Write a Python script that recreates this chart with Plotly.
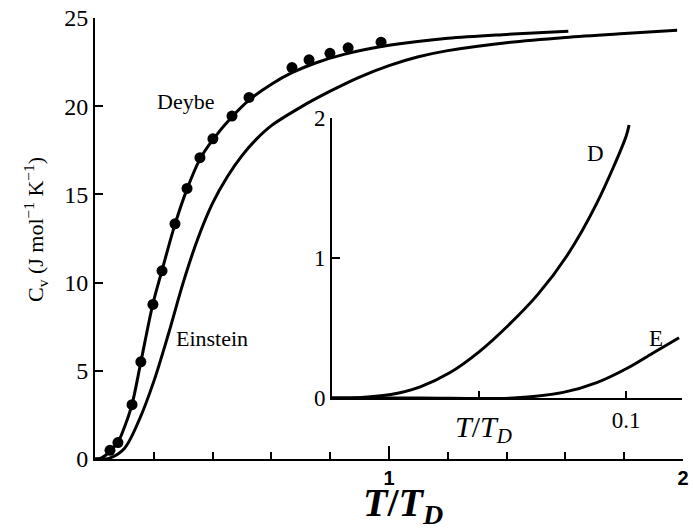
import plotly.graph_objects as go

# ---- data ----
dots_t = [0.051, 0.078, 0.126, 0.156, 0.197, 0.228, 0.272, 0.313, 0.357, 0.401,
          0.466, 0.524, 0.670, 0.728, 0.799, 0.861, 0.973]
dots_c = [0.49, 0.93, 3.08, 5.51, 8.76, 10.67, 13.33, 15.34, 17.08, 18.15,
          19.44, 20.5, 22.19, 22.63, 23.0, 23.31, 23.63]

debye_t = [0, 0.02, 0.035, 0.051, 0.078, 0.1, 0.126, 0.156, 0.197, 0.228, 0.272,
           0.313, 0.357, 0.401, 0.466, 0.524, 0.6, 0.67, 0.75, 0.85, 1.0, 1.2,
           1.4, 1.61]
debye_c = [0, 0.05, 0.2, 0.45, 0.95, 1.8, 3.1, 5.5, 8.8, 10.7, 13.3,
           15.3, 17.0, 18.1, 19.4, 20.35, 21.25, 21.9, 22.45, 22.95, 23.45, 23.85,
           24.07, 24.25]

einstein_t = [0, 0.03, 0.05, 0.1, 0.15, 0.2, 0.25, 0.3, 0.35, 0.4, 0.45, 0.5,
              0.55, 0.6, 0.7, 0.8, 0.9, 1.0, 1.1, 1.2, 1.4, 1.6, 1.8, 1.98]
einstein_c = [0, 0.0, 0.05, 0.6, 2.2, 4.4, 7.1, 10.0, 12.5, 14.5, 16.0, 17.2,
              18.15, 18.9, 19.95, 20.85, 21.65, 22.3, 22.8, 23.15, 23.6, 23.9,
              24.12, 24.3]

inset_d_t = [0, 0.01, 0.02, 0.03, 0.04, 0.05, 0.06, 0.07, 0.08, 0.09, 0.1, 0.101]
inset_d_c = [0, 0.004, 0.025, 0.08, 0.18, 0.33, 0.52, 0.74, 1.02, 1.39, 1.87, 1.95]

inset_e_t = [0, 0.03, 0.0616, 0.0786, 0.090, 0.101, 0.109, 0.118]
inset_e_c = [0, 0.0, 0.0, 0.04, 0.11, 0.22, 0.32, 0.43]

main_x_ticks = [1, 2]
main_x_minor = [0.2, 0.4, 0.6, 0.8, 1.2, 1.4, 1.6, 1.8]
main_y_ticks = [0, 5, 10, 15, 20, 25]
inset_x_ticks = [0.1]
inset_x_minor = [0.05]
inset_y_ticks = [0, 1, 2]

W, H = 693, 528
SERIF = "Times New Roman, Liberation Serif, DejaVu Serif, serif"
line = dict(color="black", width=3, shape="spline", smoothing=0.9)

fig = go.Figure()
fig.add_trace(go.Scatter(x=debye_t, y=debye_c, mode="lines", line=line,
                         xaxis="x", yaxis="y", showlegend=False))
fig.add_trace(go.Scatter(x=einstein_t, y=einstein_c, mode="lines", line=line,
                         xaxis="x", yaxis="y", showlegend=False))
fig.add_trace(go.Scatter(x=dots_t, y=dots_c, mode="markers",
                         marker=dict(color="black", size=11),
                         xaxis="x", yaxis="y", showlegend=False))
fig.add_trace(go.Scatter(x=inset_d_t, y=inset_d_c, mode="lines", line=line,
                         xaxis="x2", yaxis="y2", showlegend=False))
fig.add_trace(go.Scatter(x=inset_e_t, y=inset_e_c, mode="lines", line=line,
                         xaxis="x2", yaxis="y2", showlegend=False))

def px(x):
    return x / W

def py(y):
    return 1 - y / H

common = dict(showline=True, linecolor="black", linewidth=2, showgrid=False,
              zeroline=False, automargin=False, tickmode="array",
              ticks="inside", tickwidth=1.5, tickcolor="black")

fig.update_layout(
    template="none",
    width=W, height=H,
    margin=dict(l=0, r=0, t=0, b=0, pad=0, autoexpand=False),
    paper_bgcolor="white", plot_bgcolor="rgba(0,0,0,0)",
    xaxis=dict(domain=[px(95), px(683)], range=[0, 2], anchor="y",
               tickvals=main_x_ticks, ticklen=13,
               minor=dict(tickmode="array", tickvals=main_x_minor, ticks="inside",
                          ticklen=7, tickwidth=1.5, tickcolor="black"),
               tickfont=dict(family="Liberation Sans, Arial, sans-serif", size=20,
                             color="black", weight="bold"), **common),
    yaxis=dict(domain=[py(459), py(18)], range=[0, 25], anchor="x",
               tickvals=main_y_ticks, ticklen=8,
               tickfont=dict(family=SERIF, size=24, color="black"), **common),
    xaxis2=dict(domain=[px(332), px(682)], range=[0, 0.119], anchor="y2",
                tickvals=inset_x_ticks, ticklen=7,
                minor=dict(tickmode="array", tickvals=inset_x_minor, ticks="inside",
                           ticklen=7, tickwidth=1.5, tickcolor="black"),
                tickfont=dict(family=SERIF, size=23, color="black"), **common),
    yaxis2=dict(domain=[py(398), py(118)], range=[0, 2], anchor="x2",
                tickvals=inset_y_ticks, ticklen=8,
                tickfont=dict(family=SERIF, size=23, color="black"), **common),
)

ann = [
    dict(text="Deybe", x=px(185), y=py(102), size=22),
    dict(text="Einstein", x=px(212), y=py(338), size=22),
    dict(text="D", x=px(595), y=py(153), size=23),
    dict(text="E", x=px(656), y=py(338), size=23),
    dict(text="<i>T</i>/<i>T</i><sub><i>D</i></sub>", x=px(483), y=py(429), size=30),
    dict(text="<b><i>T</i>/<i>T</i><sub><i>D</i></sub></b>", x=px(403), y=py(505), size=40),
    dict(text="C<sub>v</sub> (J mol<sup>\u22121</sup> K<sup>\u22121</sup>)",
         x=px(36), y=py(230), size=22, angle=-90),
]
for a in ann:
    fig.add_annotation(text=a["text"], x=a["x"], y=a["y"], xref="paper", yref="paper",
                       xanchor="center", yanchor="middle", showarrow=False,
                       textangle=a.get("angle", 0),
                       font=dict(family=SERIF, size=a["size"], color="black"))

fig.write_html("out.html")
